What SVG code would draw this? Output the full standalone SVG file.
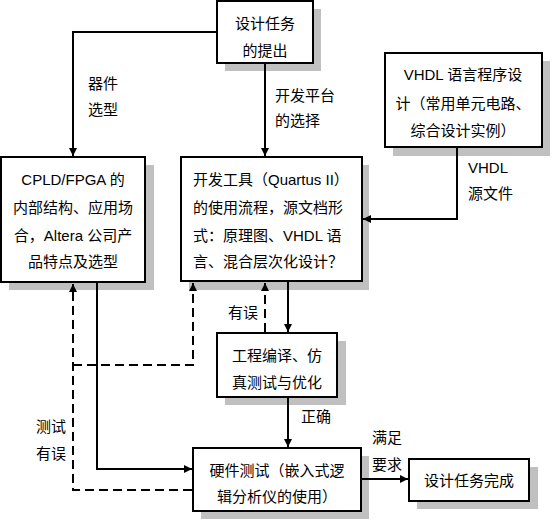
<svg xmlns="http://www.w3.org/2000/svg" width="554" height="524" viewBox="0 0 554 524">
<style>
.box{fill:#fff;stroke:#000;stroke-width:2}
.sh{fill:#c0c0c0}
text{font-family:"Liberation Sans","Noto Sans CJK SC",sans-serif;font-size:15px;fill:#000;dominant-baseline:central}
.c{text-anchor:middle}
.ln{fill:none;stroke:#000;stroke-width:2}
.dl{fill:none;stroke:#000;stroke-width:2;stroke-dasharray:9,5}
</style>
<defs>
<marker id="ar" markerUnits="userSpaceOnUse" markerWidth="8" markerHeight="8" refX="8" refY="4" orient="auto">
<path d="M0,0 L8,4 L0,8 z" fill="#000"/>
</marker>
</defs>
<rect width="554" height="524" fill="#fff"/>
<g id="n1">
<rect class="sh" x="225" y="9" width="96" height="62"/>
<rect class="box" x="217" y="1" width="96" height="62"/>
<text class="c" x="265" y="23">设计任务</text>
<text class="c" x="265" y="50">的提出</text>
</g>
<g id="n2">
<rect class="sh" x="393" y="61" width="157" height="95"/>
<rect class="box" x="385" y="53" width="157" height="94"/>
<text class="c" x="463" y="74">VHDL 语言程序设</text>
<text class="c" x="463" y="103">计（常用单元电路、</text>
<text class="c" x="463" y="130">综合设计实例）</text>
</g>
<g id="n3">
<rect class="sh" x="9" y="165" width="145" height="125"/>
<rect class="box" x="1" y="157" width="144" height="125"/>
<text class="c" x="73" y="179">CPLD/FPGA 的</text>
<text class="c" x="73" y="207">内部结构、应用场</text>
<text class="c" x="73" y="235">合，Altera 公司产</text>
<text class="c" x="73" y="261">品特点及选型</text>
</g>
<g id="n4">
<rect class="sh" x="189" y="165" width="180" height="125"/>
<rect class="box" x="181" y="157" width="181" height="124"/>
<text x="193" y="179">开发工具（Quartus II）</text>
<text x="193" y="207">的使用流程，源文档形</text>
<text x="193" y="235">式：原理图、VHDL 语</text>
<text x="193" y="261">言、混合层次化设计？</text>
</g>
<g id="n5">
<rect class="sh" x="225" y="341" width="121" height="64"/>
<rect class="box" x="217" y="333" width="120" height="64"/>
<text class="c" x="277" y="355">工程编译、仿</text>
<text class="c" x="277" y="382">真测试与优化</text>
</g>
<g id="n6">
<rect class="sh" x="201" y="456" width="168" height="63"/>
<rect class="box" x="193" y="448" width="168" height="63"/>
<text class="c" x="277" y="470">硬件测试（嵌入式逻</text>
<text class="c" x="277" y="496">辑分析仪的使用）</text>
</g>
<g id="n7">
<rect class="sh" x="417" y="467" width="121" height="42"/>
<rect class="box" x="409" y="459" width="120" height="42"/>
<text class="c" x="469" y="480">设计任务完成</text>
</g>
<g id="connectors">
<path class="ln" d="M217,32 H73 V156" marker-end="url(#ar)"/>
<path class="ln" d="M265,63 V156" marker-end="url(#ar)"/>
<path class="ln" d="M457,148 V219 H363" marker-end="url(#ar)"/>
<path class="ln" d="M288,282 V332" marker-end="url(#ar)"/>
<path class="ln" d="M288,398 V447" marker-end="url(#ar)"/>
<path class="ln" d="M97,283 V469 H192" marker-end="url(#ar)"/>
<path class="ln" d="M362,479 H408" marker-end="url(#ar)"/>
<path class="dl" d="M265,332 V283" marker-end="url(#ar)"/>
<path class="dl" d="M192,490 H73 V284" marker-end="url(#ar)"/>
<path class="dl" d="M73,365 H193 V283" marker-end="url(#ar)"/>
<text x="88" y="83">器件</text>
<text x="88" y="109">选型</text>
<text x="275" y="95">开发平台</text>
<text x="275" y="120">的选择</text>
<text x="468" y="167">VHDL</text>
<text x="468" y="193">源文件</text>
<text x="228" y="312">有误</text>
<text x="301" y="416">正确</text>
<text x="372" y="437">满足</text>
<text x="372" y="464">要求</text>
<text x="36" y="426">测试</text>
<text x="36" y="453">有误</text>
</g>
</svg>
